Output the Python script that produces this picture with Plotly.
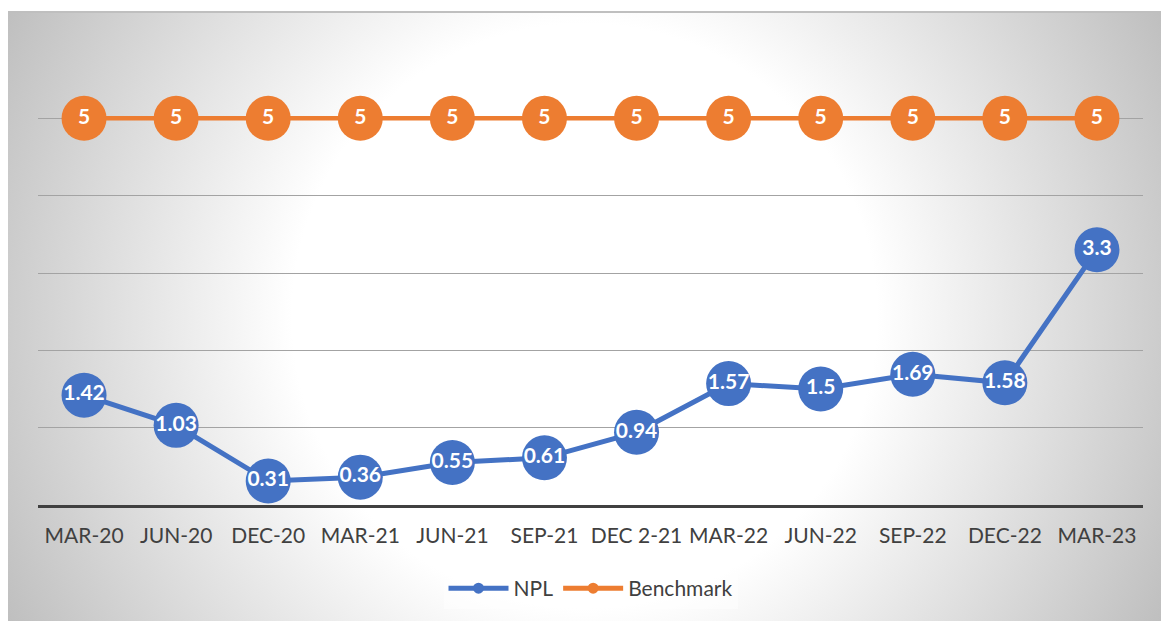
import base64
import plotly.graph_objects as go

# Quarterly NPL ratio (%) against the regulatory benchmark
categories = ["MAR-20", "JUN-20", "DEC-20", "MAR-21", "JUN-21", "SEP-21",
              "DEC 2-21", "MAR-22", "JUN-22", "SEP-22", "DEC-22", "MAR-23"]
npl = [1.42, 1.03, 0.31, 0.36, 0.55, 0.61, 0.94, 1.57, 1.5, 1.69, 1.58, 3.3]
benchmark = [5, 5, 5, 5, 5, 5, 5, 5, 5, 5, 5, 5]

BLUE = "#4472C4"
ORANGE = "#ED7D31"
FONT = "Lato"

W, H = 1161, 621
L, R, T, B = 38, 18, 41, 116
plot_w = W - L - R
plot_h = H - T - B

# chart-area frame (pixels) and its radial grey-to-white fill
fx0, fy0, fx1, fy1 = 8, 11, W, H
fw, fh = fx1 - fx0, fy1 - fy0
svg = (
    f"<svg xmlns='http://www.w3.org/2000/svg' width='{fw}' height='{fh}' "
    f"viewBox='0 0 {fw} {fh}' preserveAspectRatio='none'>"
    "<defs><radialGradient id='g' gradientUnits='userSpaceOnUse' "
    f"cx='{fw/2}' cy='{fh/2}' r='680'>"
    "<stop offset='0' stop-color='#ffffff'/>"
    "<stop offset='0.43' stop-color='#ffffff'/>"
    "<stop offset='1' stop-color='#bababa'/>"
    "</radialGradient></defs>"
    f"<rect x='0' y='0' width='{fw}' height='{fh}' fill='url(#g)'/></svg>"
)
uri = "data:image/svg+xml;base64," + base64.b64encode(svg.encode()).decode()


def px_to_paper_x(px):
    return (px - L) / plot_w


def px_to_paper_y(py):
    return (H - B - py) / plot_h


fig = go.Figure()

label_font = dict(family=FONT, size=21, color="white", weight="bold")

fig.add_trace(go.Scatter(
    x=categories, y=benchmark, mode="lines+markers+text", name="Benchmark",
    line=dict(color=ORANGE, width=4.5),
    marker=dict(color=ORANGE, size=45, line=dict(width=0)),
    text=[str(v) for v in benchmark], textposition="middle center",
    textfont=label_font, showlegend=False, cliponaxis=False,
))
fig.add_trace(go.Scatter(
    x=categories, y=npl, mode="lines+markers+text", name="NPL",
    line=dict(color=BLUE, width=5),
    marker=dict(color=BLUE, size=45, line=dict(width=0)),
    text=[str(v) for v in npl], textposition="middle center",
    textfont=label_font, showlegend=False, cliponaxis=False,
))

# legend entries
fig.add_trace(go.Scatter(
    x=[None], y=[None], mode="lines+markers", name="NPL",
    line=dict(color=BLUE, width=5), marker=dict(color=BLUE, size=11),
))
fig.add_trace(go.Scatter(
    x=[None], y=[None], mode="lines+markers", name="Benchmark",
    line=dict(color=ORANGE, width=5), marker=dict(color=ORANGE, size=11),
))

fig.update_layout(
    width=W, height=H,
    margin=dict(l=L, r=R, t=T, b=B),
    paper_bgcolor="white",
    plot_bgcolor="rgba(0,0,0,0)",
    font=dict(family=FONT, size=21, color="#404040"),
    xaxis=dict(
        type="category", range=[-0.5, len(categories) - 0.5],
        showgrid=False, showline=True, linecolor="#404040", linewidth=3,
        ticks="", ticklabelstandoff=10,
        tickfont=dict(family=FONT, size=21, color="#404040"),
        fixedrange=True,
    ),
    yaxis=dict(
        range=[0, 6], dtick=1, showticklabels=False, showgrid=True,
        gridcolor="#A3A3A3", gridwidth=1, zeroline=False, fixedrange=True,
    ),
    legend=dict(
        orientation="h", x=0.5, xanchor="center",
        y=px_to_paper_y(568), yanchor="top",
        bgcolor="rgba(255,255,255,0.45)",
        font=dict(family=FONT, size=21, color="#404040"),
        itemwidth=60, tracegroupgap=0,
    ),
    images=[dict(
        source=uri, xref="paper", yref="paper",
        x=px_to_paper_x(fx0), y=px_to_paper_y(fy0),
        sizex=fw / plot_w, sizey=fh / plot_h,
        xanchor="left", yanchor="top", sizing="stretch", layer="below",
    )],
    shapes=[dict(
        type="line", xref="paper", yref="paper",
        x0=px_to_paper_x(fx0), x1=px_to_paper_x(fx1),
        y0=px_to_paper_y(fy0 + 1), y1=px_to_paper_y(fy0 + 1),
        line=dict(color="#BFBFBF", width=2), layer="below",
    )],
)

fig.write_html("out.html")
